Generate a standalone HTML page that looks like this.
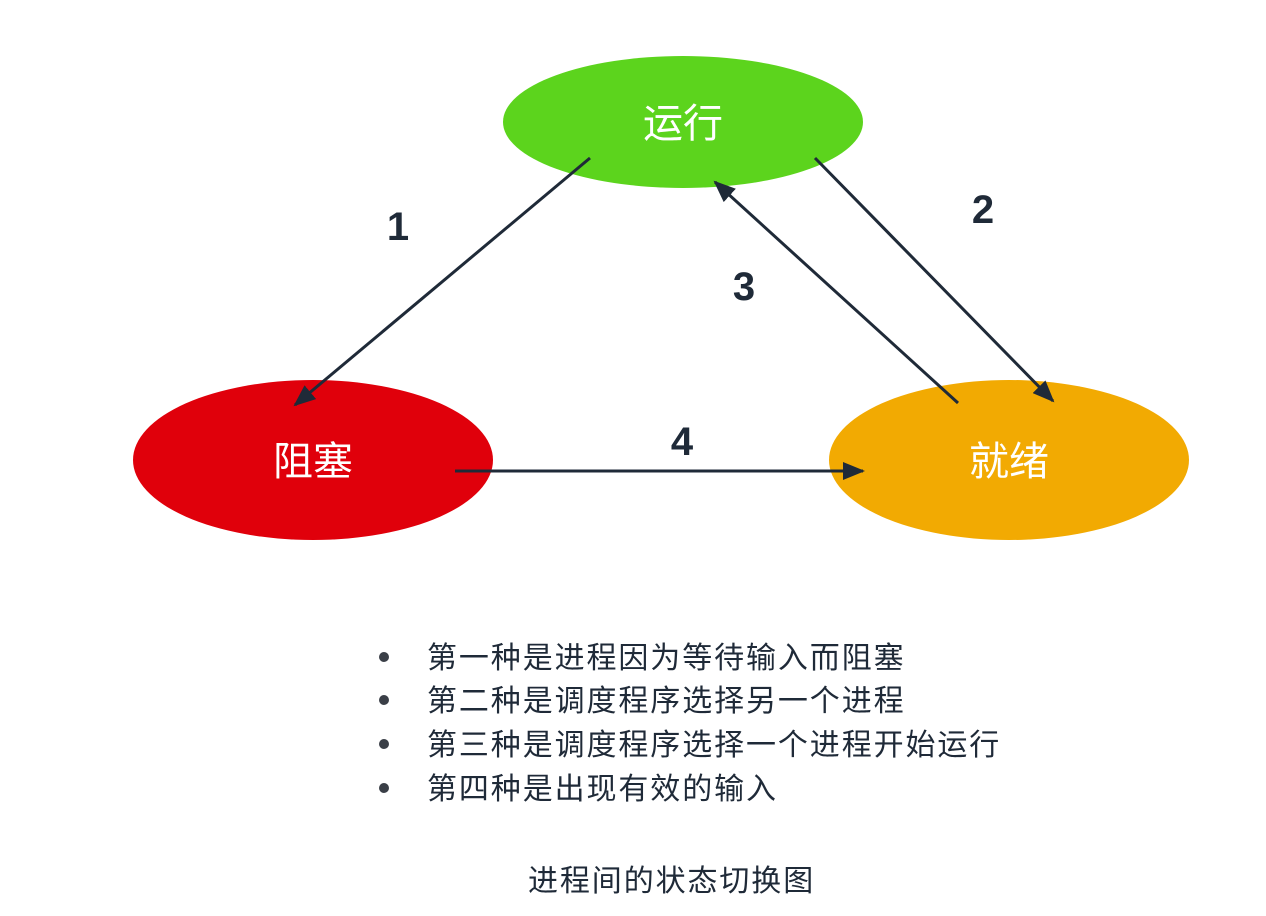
<!DOCTYPE html>
<html><head><meta charset="utf-8"><style>
body{margin:0;background:#fff;}
svg{display:block}
</style></head><body>
<svg width="1266" height="916" viewBox="0 0 1266 916" xmlns="http://www.w3.org/2000/svg">
<defs>
<marker id="b" markerWidth="22" markerHeight="18" refX="20" refY="9" orient="auto" markerUnits="userSpaceOnUse" viewBox="0 0 22 18">
<path d="M0,0 L22,9 L0,18 z" fill="#1f2a38"/>
</marker>
</defs>
<ellipse cx="683" cy="122" rx="180" ry="66" fill="#5cd41d"/>
<ellipse cx="313" cy="460" rx="180" ry="80" fill="#e0000b"/>
<ellipse cx="1009" cy="460" rx="180" ry="80" fill="#f2aa02"/>
<g font-family="'Liberation Sans','Noto Sans CJK SC',sans-serif" fill="#fff" font-size="40" text-anchor="middle">
<text x="683" y="137">运行</text>
<text x="313" y="475">阻塞</text>
<text x="1009" y="475">就绪</text>
</g>
<g stroke="#1f2a38" stroke-width="3" fill="none">
<line x1="590" y1="158" x2="295" y2="405" marker-end="url(#b)"/>
<line x1="815" y1="158" x2="1053" y2="401" marker-end="url(#b)"/>
<line x1="958" y1="403" x2="715" y2="182" marker-end="url(#b)"/>
<line x1="455" y1="471" x2="863" y2="471" marker-end="url(#b)"/>
</g>
<g font-family="'Liberation Sans',sans-serif" font-weight="bold" font-size="40" fill="#1f2a38" text-anchor="middle">
<text x="398" y="240">1</text>
<text x="983" y="223">2</text>
<text x="744" y="300">3</text>
<text x="682" y="455">4</text>
</g>
<g fill="#3a3f47">
<circle cx="384" cy="657" r="5"/>
<circle cx="384" cy="700" r="5"/>
<circle cx="384" cy="744" r="5"/>
<circle cx="384" cy="788" r="5"/>
</g>
<g font-family="'Liberation Sans','Noto Sans CJK SC',sans-serif" font-size="30" fill="#1f2a38" letter-spacing="1.9">
<text x="427" y="668">第一种是进程因为等待输入而阻塞</text>
<text x="427" y="711">第二种是调度程序选择另一个进程</text>
<text x="427" y="755">第三种是调度程序选择一个进程开始运行</text>
<text x="427" y="799">第四种是出现有效的输入</text>
<text x="528" y="891">进程间的状态切换图</text>
</g>
</svg>
</body></html>
